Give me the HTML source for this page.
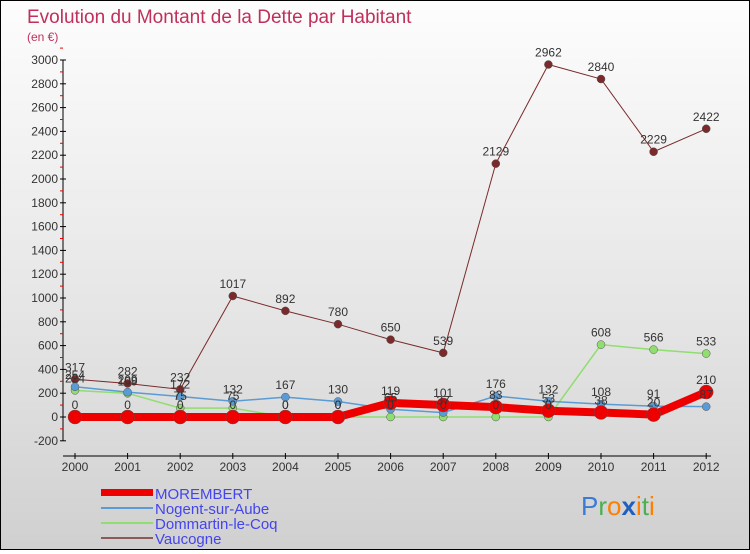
<!DOCTYPE html>
<html><head><meta charset="utf-8"><style>
body{margin:0;width:750px;height:550px;overflow:hidden;font-family:"Liberation Sans",sans-serif}
#wrap{position:relative;width:748px;height:548px;border:1px solid #000;background:linear-gradient(#fdfdfd,#e4e4e4 60%,#d0d0d0)}
</style></head><body>
<div id="wrap">
<svg id="chart" width="748" height="548" xmlns="http://www.w3.org/2000/svg">
<text x="26" y="22" font-size="19" fill="#c0305a">Evolution du Montant de la Dette par Habitant</text>
<text x="26" y="40" font-size="12" fill="#c0305a">(en €)</text>
<g id="axes"></g><g id="series"></g><g id="labels"></g>
<g font-size="15" fill="#4444ee">
<rect x="100" y="488" width="52" height="7" fill="#ee0000"/>
<text x="154" y="498">MOREMBERT</text>
<rect x="100" y="506" width="52" height="2" fill="#5b9bd5"/>
<text x="154" y="513">Nogent-sur-Aube</text>
<rect x="100" y="521" width="52" height="2" fill="#90dd70"/>
<text x="154" y="528">Dommartin-le-Coq</text>
<rect x="100" y="536" width="52" height="2" fill="#8b5a5a"/>
<text x="154" y="543">Vaucogne</text>
</g>
<text x="580" y="514" font-size="26"><tspan fill="#3a7bd5">P</tspan><tspan fill="#4caf50">r</tspan><tspan fill="#ff7f00">o</tspan><tspan fill="#1f5fbf" font-weight="bold">x</tspan><tspan fill="#ff7f00">i</tspan><tspan fill="#4caf50">t</tspan><tspan fill="#ff7f00">i</tspan></text>
</svg></div>
<script>
const years=[2000,2001,2002,2003,2004,2005,2006,2007,2008,2009,2010,2011,2012];
const yTicks=[-200,0,200,400,600,800,1000,1200,1400,1600,1800,2000,2200,2400,2600,2800,3000];
const morembert=[0,0,0,0,0,0,119,101,83,53,38,20,210];
const nogent=[254,209,172,132,167,130,65,37,176,132,108,91,87];
const dommartin=[224,199,75,75,0,0,0,0,0,0,608,566,533];
const vaucogne=[317,282,232,1017,892,780,650,539,2129,2962,2840,2229,2422];
const NS="http://www.w3.org/2000/svg";
const X=i=>74+i*52.6;
const Y=v=>416-v*0.119;
function mk(t,a,p){const e=document.createElementNS(NS,t);for(const k in a)e.setAttribute(k,a[k]);p.appendChild(e);return e;}
const axes=document.getElementById('axes'),ser=document.getElementById('series'),lab=document.getElementById('labels');
const ya=mk('line',{x1:62,y1:Y(3000),x2:62,y2:Y(-200),stroke:'#000'},axes);


const xa=mk('line',{x1:62,y1:455,x2:710,y2:455,stroke:'#000'},axes);


yTicks.forEach(v=>{
 mk('line',{x1:59,y1:Y(v),x2:65,y2:Y(v),stroke:'#000'},axes);
 mk('line',{x1:59,y1:Y(v+100),x2:62,y2:Y(v+100),stroke:'#e00'},axes);
 const t=mk('text',{x:57,y:Y(v)+4,'font-size':12,'text-anchor':'end',fill:'#333'},axes);
 t.textContent=v;
 
 
});
years.forEach((y,i)=>{
 mk('line',{x1:X(i),y1:452,x2:X(i),y2:458,stroke:'#000'},axes);
 const t=mk('text',{x:X(i),y:470,'font-size':12,'text-anchor':'middle',fill:'#333'},axes);
 t.textContent=y;
 
 
});
function series(data,color,w,r,name,labels){
 const pts=data.map((v,i)=>X(i)+','+Y(v)).join(' ');
 const l=mk('polyline',{points:pts,fill:'none',stroke:color,'stroke-width':w},ser);
 
 
 data.forEach((v,i)=>{
  const c=mk('circle',{cx:X(i),cy:Y(v),r:r,fill:color,stroke:'#555','stroke-width':0.5},ser);
  
  
  if(labels){const t=mk('text',{x:X(i),y:Y(v)-8,'font-size':12,'text-anchor':'middle',fill:'#333'},lab);
  t.textContent=v;
  
  }
 });
}
series(vaucogne,'#7a2a2a',1,4,'vaucogne',true);
series(dommartin,'#90dd70',1.5,4,'dommartin',true);
series(nogent,'#5b9bd5',1.5,4,'nogent',true);
series(morembert,'#ee0000',8,7,'morembert',true);
</script>
</body></html>
